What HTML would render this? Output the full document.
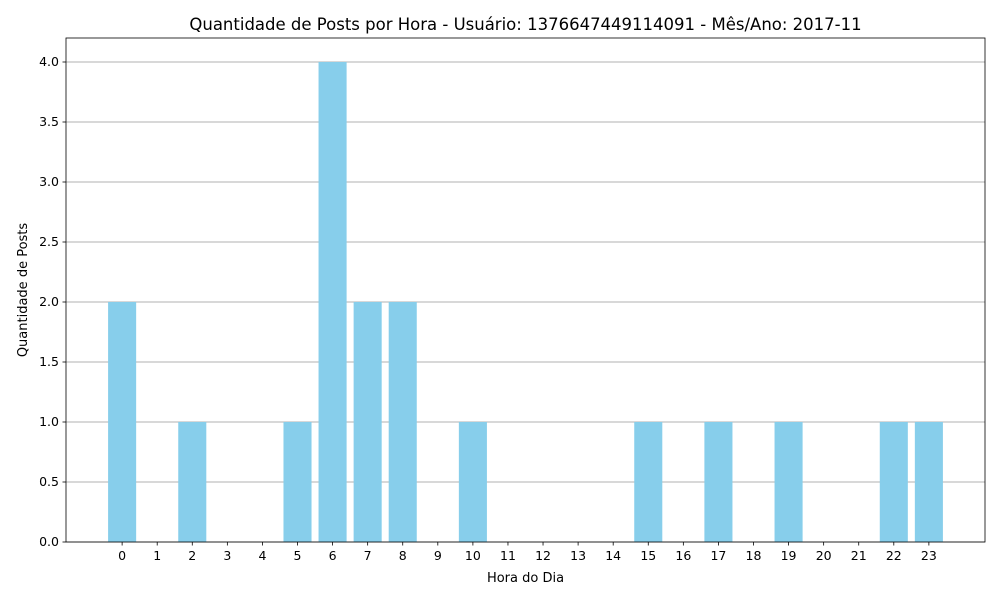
<!DOCTYPE html>
<html><head><meta charset="utf-8"><style>
body{margin:0;background:#fff;font-family:"Liberation Sans","DejaVu Sans",sans-serif}
svg text{font-family:"DejaVu Sans","Liberation Sans",sans-serif}
</style></head><body>
<svg id="chart" width="1000" height="600">
<rect width="1000" height="600" fill="#fff"/>
<g id="grid"></g><g id="bars"></g><g id="axes"></g>
</svg>
<script>
const hours=[0,1,2,3,4,5,6,7,8,9,10,11,12,13,14,15,16,17,18,19,20,21,22,23];
const posts=[2,0,1,0,0,1,4,2,2,0,1,0,0,0,0,1,0,1,0,1,0,0,1,1];
const yTicks=[0,0.5,1,1.5,2,2.5,3,3.5,4];
const yTickLabels=["0.0","0.5","1.0","1.5","2.0","2.5","3.0","3.5","4.0"];
const L=66,R=985,T=38,B=542,xMin=-1.6,xMax=24.6,yMax=4.2;
const xs=v=>L+(v-xMin)/(xMax-xMin)*(R-L);
const ys=v=>B-v/yMax*(B-T);
const NS="http://www.w3.org/2000/svg";
function mk(tag,attrs,parent,txt){const e=document.createElementNS(NS,tag);for(const k in attrs)e.setAttribute(k,attrs[k]);if(txt!==undefined)e.textContent=txt;parent.appendChild(e);return e;}
const grid=document.getElementById('grid'),bars=document.getElementById('bars'),axes=document.getElementById('axes');
yTicks.forEach((t,i)=>{
 const g=mk('line',{x1:L,x2:R,y1:ys(t),y2:ys(t),stroke:'#b0b0b0','stroke-width':1,'shape-rendering':'crispEdges'},grid);
 
 
 mk('line',{x1:L-3.5,x2:L,y1:ys(t),y2:ys(t),stroke:'#000','stroke-width':0.8},axes);
 const tl=mk('text',{x:L-7,y:ys(t)+4,'text-anchor':'end','font-size':12.5},axes,yTickLabels[i]);
 
 
});
hours.forEach((h,i)=>{
 const w=xs(0.4)-xs(-0.4);
 const b=mk('rect',{x:xs(h-0.4),y:ys(posts[i]),width:w,height:B-ys(posts[i]),fill:'#87ceeb'},bars);
 
 
 mk('line',{x1:xs(h),x2:xs(h),y1:B,y2:B+3.5,stroke:'#000','stroke-width':0.8},axes);
 const tl=mk('text',{x:xs(h),y:B+18,'text-anchor':'middle','font-size':12.5},axes,String(h));
 
 
});
const fr=mk('rect',{x:L,y:T,width:R-L,height:B-T,fill:'none',stroke:'#000','stroke-width':0.8},axes);


const ti=mk('text',{x:(L+R)/2,y:30,'text-anchor':'middle','font-size':16.5},axes,'Quantidade de Posts por Hora - Usuário: 1376647449114091 - Mês/Ano: 2017-11');


const xt=mk('text',{x:(L+R)/2,y:582,'text-anchor':'middle','font-size':13},axes,'Hora do Dia');


const yt=mk('text',{x:27,y:(T+B)/2,'text-anchor':'middle','font-size':13,transform:`rotate(-90 27 ${(T+B)/2})`},axes,'Quantidade de Posts');


</script>
</body></html>
